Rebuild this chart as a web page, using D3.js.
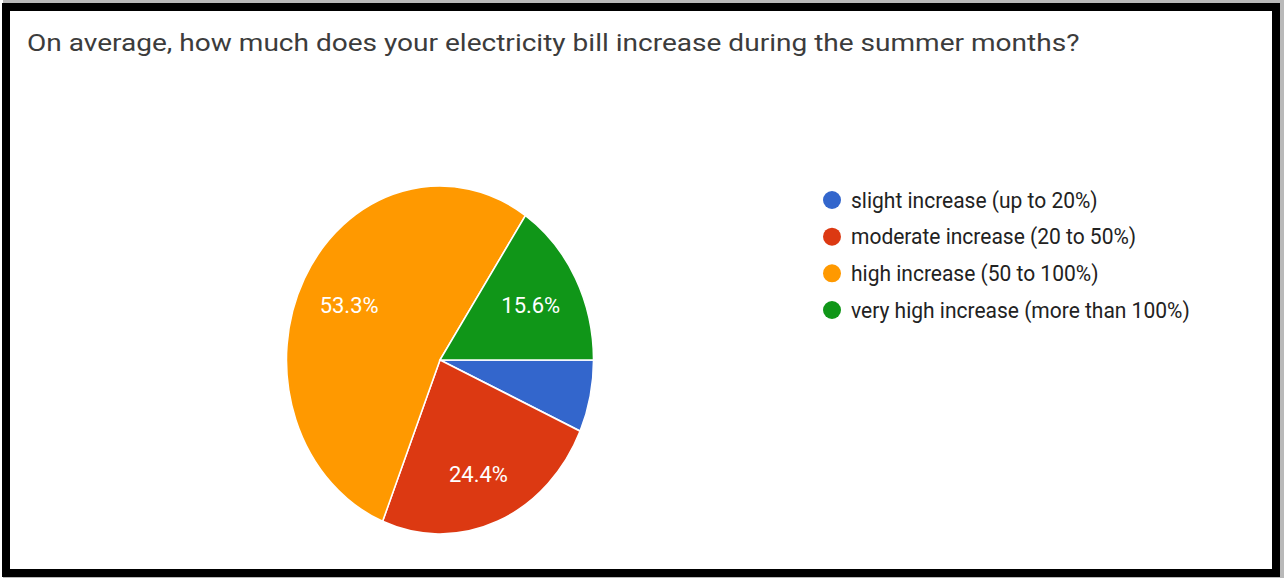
<!DOCTYPE html>
<html>
<head>
<meta charset="utf-8">
<script src="https://cdn.jsdelivr.net/npm/d3@7"></script>
<style>
    body { margin: 0; background: #fff; }
    svg { display: block; }
    text { font-family: Roboto, "Noto Sans", Arial, sans-serif; }
</style>
</head>
<body>
<div id="chart"></div>
<script>
// data
var title = "On average, how much does your electricity bill increase during the summer months?";
var categories = ["slight increase (up to 20%)", "moderate increase (20 to 50%)", "high increase (50 to 100%)", "very high increase (more than 100%)"];
var percents = [6.7, 24.4, 53.3, 15.6];
var colors = ["#3366cc", "#dc3912", "#ff9900", "#109618"];

var W = 1284, H = 578;
var cx = 440, cy = 360, radius = 153.5;
var stretch = 174 / 153.5;   // the screenshot is squeezed, pie is taller than wide
var CAP = 0.711;             // Roboto cap height / em

var svg = d3.select("#chart").append("svg")
        .attr("width", W)
        .attr("height", H);

// shadow + frame background
svg.append("rect").attr("x", 3).attr("y", 0).attr("width", W - 3).attr("height", H).attr("fill", "#b9b9b9");
svg.append("rect").attr("x", 2).attr("y", 3).attr("width", 1278).attr("height", 574).attr("fill", "#fff");

// font size so the text spans a given width
function fitWidth(sel, target) {
    var w = sel.node().getComputedTextLength();
    var fs = parseFloat(sel.attr("font-size"));
    sel.attr("font-size", fs * target / w);
    return fs * target / w;
}
// vertical scale so capitals get a given height
function yScale(fs, capHeight) {
    return capHeight / (CAP * fs);
}

var t = svg.append("text")
        .attr("font-size", 20)
        .attr("fill", "#3c3c3c")
        .text(title);
var tfs = fitWidth(t, 1053);
t.attr("transform", "translate(27,51) scale(1," + yScale(tfs, 17.5) + ")");

// pie
var color = d3.scaleOrdinal().domain(categories).range(colors);
var pie = d3.pie().sort(null)
        .startAngle(Math.PI / 2)
        .endAngle(Math.PI / 2 + 2 * Math.PI)
        .value(function (d, i) { return percents[i]; });
var arc = d3.arc().innerRadius(0).outerRadius(radius);
var labelArc = d3.arc().innerRadius(radius * 0.67).outerRadius(radius * 0.67);
var arcs = pie(categories);

var g = svg.append("g")
        .attr("transform", "translate(" + cx + "," + cy + ") scale(1," + stretch + ")");
g.selectAll("path.slice")
        .data(arcs)
        .enter().append("path")
        .attr("class", "slice")
        .attr("d", arc)
        .attr("fill", function (d) { return color(d.data); })
        .attr("stroke", "#fff")
        .attr("stroke-width", 1.5);

var labels = svg.selectAll("text.pct")
        .data(arcs.filter(function (d) { return percents[d.index] >= 10; }))
        .enter().append("text")
        .attr("class", "pct")
        .attr("text-anchor", "middle")
        .attr("font-size", 16)
        .attr("fill", "#fff")
        .text(function (d) { return percents[d.index].toFixed(1) + "%"; });
var pfs = fitWidth(d3.select(labels.nodes()[1]), 59);
var psy = yScale(pfs, 15.5);
labels.attr("font-size", pfs)
        .attr("transform", function (d) {
            var c = labelArc.centroid(d);
            var y = cy + c[1] * stretch + 7.5;
            if (c[1] > 0) y += 6;   // lower label sits a bit further out
            return "translate(" + (cx + c[0]) + "," + y + ") scale(1," + psy + ")";
        });

// legend
var legendY = d3.scalePoint().domain(categories).range([200, 310]);
var leg = svg.selectAll("g.legend")
        .data(categories)
        .enter().append("g")
        .attr("class", "legend")
        .attr("transform", function (d) { return "translate(832," + legendY(d) + ")"; });
leg.append("circle")
        .attr("r", 9)
        .attr("fill", function (d) { return color(d); });
var legText = leg.append("text")
        .attr("font-size", 16)
        .attr("fill", "#222")
        .text(function (d) { return d; });
var lfs = fitWidth(d3.select(legText.nodes()[3]), 339);
var lsy = yScale(lfs, 16);
legText.attr("font-size", lfs)
        .attr("transform", "translate(19,7.5) scale(1," + lsy + ")");

// thick black frame
svg.append("rect")
        .attr("x", 6).attr("y", 7)
        .attr("width", 1270).attr("height", 566)
        .attr("fill", "none")
        .attr("stroke", "#000")
        .attr("stroke-width", 8);
</script>
</body>
</html>
